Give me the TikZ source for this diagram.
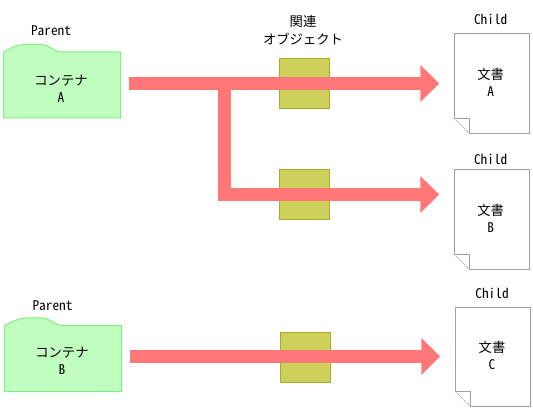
\documentclass[tikz,border=0pt]{standalone}
\usepackage{fontspec}
\setmainfont[RawFeature=+hwid]{Noto Sans CJK JP}
\newfontfamily\cjk{Noto Sans CJK JP}
\usetikzlibrary{arrows.meta}
\definecolor{contfill}{HTML}{C0FFC0}
\definecolor{contline}{HTML}{80F080}
\definecolor{relfill}{HTML}{CED05C}
\definecolor{relline}{HTML}{A8AC28}
\definecolor{docline}{HTML}{A0A0A0}
\definecolor{flow}{HTML}{FF7878}
\tikzset{
  captext/.style={inner sep=0pt,font=\fontsize{13.33}{17}\selectfont,align=center},
  bodytext/.style={inner sep=0pt,font=\fontsize{13.33}{17}\selectfont,align=center},
  jptext/.style={inner sep=0pt,font=\cjk\fontsize{13.33}{18}\selectfont,align=center},
  contshape/.style={fill=contfill,draw=contline,line width=1pt},
  relbox/.style={rectangle,fill=relfill,draw=relline,line width=1pt,minimum width=50pt,minimum height=50pt,inner sep=0pt},
  docshape/.style={draw=docline,line width=1pt,fill=white},
  flowline/.style={draw=flow,line width=13pt,-{Triangle[length=19pt,width=36pt,fill=flow]}},
}
\newcommand{\contpath}[2]{%
  \draw[contshape,shift={(#1,#2)}] (0,52) .. controls (7,48.5) and (14,44.3) .. (24,44.3) -- (36,44.3) .. controls (46,44.3) and (50,52) .. (58,52) -- (117,52) -- (117,118) -- (0,118) -- cycle;}
\newcommand{\docpath}[3]{% x top bottom
  \draw[docshape] (#1,#2) -- (#1+75,#2) -- (#1+75,#3) -- (#1+15,#3) -- (#1+15,#3-15) -- (#1,#3-15) -- cycle;
  \draw[docline,line width=1pt,dash pattern=on 1pt off 1pt] (#1,#3-15) -- (#1+15,#3);}
\begin{document}
\begin{tikzpicture}[x=1pt,y=-1pt]
\useasboundingbox (0,0) rectangle (533,409);
% containers
\contpath{3.5}{0}
\contpath{4.5}{273.5}
\node[bodytext] (ca) at (61,88.5) {{\cjk コンテナ}\\A};
\node[bodytext] (cb) at (62,361) {{\cjk コンテナ}\\B};
\node[captext] (pa) at (51,31) {Parent};
\node[captext] (pb) at (52.5,306) {Parent};
% related objects
\node[relbox] (ra) at (304.5,83.5) {};
\node[relbox] (rb) at (304.5,194.5) {};
\node[relbox] (rc) at (305.5,357.5) {};
\node[jptext] (rt) at (303,30) {関連\\オブジェクト};
% documents
\docpath{454.5}{33.5}{133.5}
\docpath{454.5}{169.5}{269.5}
\docpath{455.5}{307.5}{406.5}
\node[bodytext] (da) at (490.7,82.5) {{\cjk 文書}\\A};
\node[bodytext] (db) at (490.7,218.5) {{\cjk 文書}\\B};
\node[bodytext] (dc) at (492,355.5) {{\cjk 文書}\\C};
\node[captext] (ch1) at (490.7,19) {Child};
\node[captext] (ch2) at (490.7,159) {Child};
\node[captext] (ch3) at (492,293) {Child};
% connectors
\coordinate (sa) at (129,83.5);
\coordinate (ea) at (439.3,83.5);
\coordinate (sb) at (224,83.5);
\coordinate (kb) at (224,194.5);
\coordinate (eb) at (439.3,194.5);
\coordinate (sc) at (130,356.5);
\coordinate (ec) at (440.3,356.5);
\draw[flowline] (sb) -- (kb) -- (eb);
\draw[flowline] (sa) -- (ea);
\draw[flowline] (sc) -- (ec);
\end{tikzpicture}
\end{document}
